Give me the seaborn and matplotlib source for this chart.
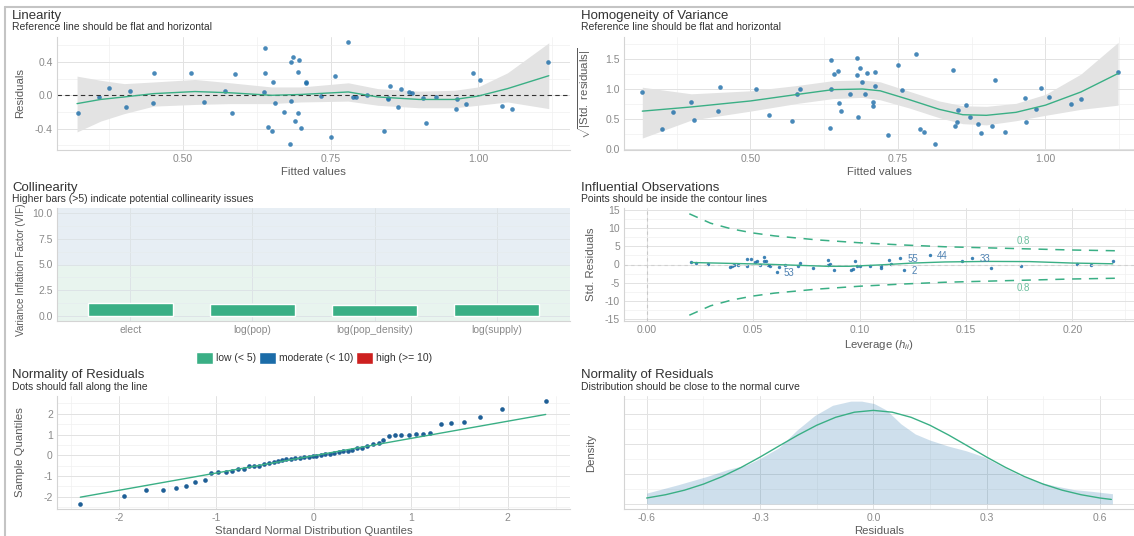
import numpy as np
import matplotlib.pyplot as plt
import seaborn as sns
from matplotlib.lines import Line2D
from matplotlib.patches import Patch
from matplotlib.ticker import MultipleLocator, FormatStrFormatter, NullFormatter

# ---- data ----
# Linearity: fitted values vs residuals
fitted = [0.322, 0.357, 0.374, 0.403, 0.409, 0.450, 0.449, 0.514, 0.535, 0.571,
          0.582, 0.588, 0.638, 0.638, 0.637, 0.644, 0.650, 0.652, 0.656, 0.671,
          0.682, 0.686, 0.683, 0.681, 0.690, 0.694, 0.697, 0.694, 0.699, 0.708,
          0.708, 0.734, 0.750, 0.757, 0.780, 0.788, 0.793, 0.812, 0.841, 0.847,
          0.850, 0.848, 0.865, 0.870, 0.883, 0.888, 0.907, 0.912, 0.929, 0.962,
          0.964, 0.980, 0.991, 1.003, 1.040, 1.058, 1.119]
resid = [-0.208, -0.016, 0.092, -0.140, 0.056, 0.272, -0.092, 0.264, -0.076, 0.056,
         -0.216, 0.256, 0.564, 0.264, 0.036, -0.380, -0.424, 0.160, -0.092, -0.200,
         0.400, 0.464, -0.064, -0.588, -0.304, -0.208, 0.424, 0.280, -0.388, 0.160,
         0.144, -0.012, -0.496, 0.232, 0.636, -0.024, -0.016, 0.004, -0.428, -0.036,
         0.108, -0.048, -0.136, 0.072, 0.040, 0.024, -0.032, -0.328, -0.020, -0.168,
         -0.048, -0.100, 0.264, 0.184, -0.132, -0.164, 0.404]
lin_sx = [0.32, 0.36, 0.40, 0.45, 0.52, 0.58, 0.65, 0.70, 0.78, 0.83, 0.90, 0.96, 1.00, 1.05, 1.12]
lin_sy = [-0.10, -0.05, -0.02, 0.02, 0.045, 0.03, 0.00, 0.01, 0.04, -0.02, -0.05, -0.05, -0.01, 0.08, 0.235]
lin_lo = [-0.44, -0.31, -0.22, -0.13, -0.11, -0.10, -0.10, -0.08, -0.07, -0.12, -0.15, -0.15, -0.12, -0.08, -0.16]
lin_hi = [0.23, 0.18, 0.14, 0.16, 0.19, 0.15, 0.10, 0.10, 0.15, 0.08, 0.05, 0.06, 0.10, 0.27, 0.63]

# Homogeneity of variance
hom_x = [0.317, 0.351, 0.369, 0.400, 0.405, 0.448, 0.446, 0.510, 0.532, 0.570,
         0.579, 0.585, 0.636, 0.637, 0.635, 0.642, 0.648, 0.651, 0.654, 0.669,
         0.680, 0.685, 0.681, 0.683, 0.689, 0.694, 0.697, 0.707, 0.707, 0.712,
         0.711, 0.733, 0.750, 0.757, 0.780, 0.788, 0.795, 0.813, 0.843, 0.847,
         0.850, 0.852, 0.866, 0.872, 0.886, 0.890, 0.909, 0.915, 0.932, 0.965,
         0.967, 0.984, 0.993, 1.006, 1.044, 1.061, 1.123]
hom_y = [0.957, 0.336, 0.616, 0.778, 0.481, 1.036, 0.633, 1.002, 0.571, 0.470,
         0.918, 0.997, 1.484, 1.002, 0.347, 1.243, 1.305, 0.767, 0.633, 0.913,
         1.512, 1.355, 1.232, 0.532, 1.109, 0.913, 1.265, 0.778, 0.711, 1.277,
         1.058, 0.230, 1.400, 0.980, 1.585, 0.336, 0.274, 0.073, 1.321, 0.381,
         0.442, 0.644, 0.733, 0.526, 0.409, 0.258, 0.386, 1.148, 0.280, 0.851,
         0.454, 0.666, 1.013, 0.868, 0.756, 0.834, 1.277]
hom_sx = [0.317, 0.40, 0.50, 0.58, 0.64, 0.69, 0.72, 0.77, 0.82, 0.86, 0.90, 0.95, 1.00, 1.06, 1.123]
hom_sy = [0.63, 0.70, 0.80, 0.91, 0.99, 1.00, 0.97, 0.82, 0.66, 0.57, 0.56, 0.61, 0.73, 0.95, 1.26]
hom_lo = [0.18, 0.48, 0.63, 0.76, 0.84, 0.86, 0.82, 0.68, 0.52, 0.42, 0.40, 0.47, 0.56, 0.66, 0.73]
hom_hi = [1.03, 0.92, 0.97, 1.06, 1.14, 1.15, 1.12, 0.96, 0.80, 0.72, 0.71, 0.76, 0.91, 1.25, 1.78]

# Collinearity
terms = ["elect", "log(pop)", "log(pop_density)", "log(supply)"]
vif = [1.22, 1.15, 1.09, 1.15]

# Influential observations
lev = [0.021, 0.023, 0.029, 0.039, 0.040, 0.041, 0.043, 0.047, 0.047, 0.049,
       0.051, 0.052, 0.053, 0.055, 0.055, 0.056, 0.057, 0.058, 0.061, 0.062,
       0.065, 0.071, 0.072, 0.078, 0.085, 0.085, 0.086, 0.088, 0.096, 0.097,
       0.098, 0.099, 0.100, 0.105, 0.110, 0.110, 0.114, 0.115, 0.119, 0.121,
       0.133, 0.148, 0.153, 0.162, 0.176, 0.202, 0.209, 0.219]
std_res = [0.73, 0.37, 0.18, -0.64, -0.28, -0.18, 0.00, -0.28, 1.56, 1.65,
           0.73, 1.00, -0.09, 2.20, 1.00, 0.92, -0.09, -0.28, -2.20, -0.73,
           -0.18, -0.55, 0.46, -1.00, 1.19, -0.09, 0.18, -1.47, -1.47, -1.38,
           1.00, -0.55, -0.46, -0.46, -1.00, -0.28, 1.19, 0.18, 1.83, -1.47,
           2.57, 0.92, 1.74, -0.83, -0.37, 0.09, -0.09, 0.83]
inf_ids = {18: "53", 38: "55", 39: "2", 40: "44", 42: "33"}
inf_sx = [0.021, 0.04, 0.055, 0.07, 0.085, 0.095, 0.11, 0.125, 0.14, 0.16, 0.18, 0.20, 0.219]
inf_sy = [0.55, 0.30, 0.10, -0.20, -0.50, -0.50, -0.10, 0.40, 0.70, 0.85, 0.80, 0.40, 0.20]
cook_h = [0.02, 0.03, 0.04, 0.05, 0.06, 0.08, 0.10, 0.12, 0.14, 0.16, 0.18, 0.20, 0.22]
cook_up = [14.0, 11.4, 9.8, 8.7, 7.9, 6.8, 6.0, 5.4, 4.9, 4.6, 4.3, 4.0, 3.8]
cook_lo = [-14.0, -11.4, -9.8, -8.7, -7.9, -6.8, -6.0, -5.4, -4.9, -4.6, -4.3, -4.0, -3.8]

# QQ plot
qq_theo = [-2.40, -1.95, -1.72, -1.55, -1.42, -1.31, -1.22, -1.12, -1.05, -0.98,
           -0.90, -0.84, -0.78, -0.72, -0.66, -0.61, -0.56, -0.51, -0.46, -0.41,
           -0.37, -0.32, -0.28, -0.23, -0.19, -0.14, -0.10, -0.05, -0.01, 0.03,
           0.08, 0.12, 0.17, 0.21, 0.26, 0.30, 0.35, 0.40, 0.45, 0.50,
           0.55, 0.61, 0.67, 0.72, 0.78, 0.84, 0.90, 0.98, 1.05, 1.13,
           1.20, 1.31, 1.42, 1.55, 1.71, 1.94, 2.39]
qq_samp = [-2.34, -1.95, -1.68, -1.65, -1.57, -1.50, -1.28, -1.18, -0.85, -0.80,
           -0.80, -0.75, -0.67, -0.64, -0.54, -0.51, -0.50, -0.40, -0.37, -0.32,
           -0.27, -0.24, -0.16, -0.18, -0.11, -0.11, -0.10, -0.10, -0.05, -0.03,
           0.00, 0.05, 0.08, 0.11, 0.16, 0.19, 0.22, 0.27, 0.35, 0.37,
           0.45, 0.56, 0.58, 0.75, 0.93, 0.96, 0.98, 0.99, 1.01, 1.04,
           1.09, 1.49, 1.58, 1.63, 1.84, 2.22, 2.61]
qq_lx = [-2.40, 2.39]
qq_ly = [-2.02, 1.97]

# Density of residuals
dens_x = [-0.60, -0.517, -0.44, -0.383, -0.336, -0.30, -0.25, -0.203, -0.155, -0.108,
          -0.06, -0.031, 0.002, 0.035, 0.073, 0.111, 0.149, 0.197, 0.245, 0.292,
          0.34, 0.387, 0.435, 0.482, 0.53, 0.578, 0.633]
dens_y = [0.18, 0.32, 0.46, 0.58, 0.65, 0.76, 0.94, 1.23, 1.48, 1.65,
          1.72, 1.72, 1.68, 1.57, 1.34, 1.17, 1.07, 0.97, 0.89, 0.79,
          0.63, 0.48, 0.37, 0.30, 0.24, 0.21, 0.17]
norm_x = [-0.60, -0.55, -0.50, -0.45, -0.40, -0.35, -0.30, -0.25, -0.20, -0.15, -0.10, -0.05,
          0.00, 0.05, 0.10, 0.15, 0.20, 0.25, 0.30, 0.35, 0.40, 0.45, 0.50, 0.55, 0.60, 0.63]
norm_y = [0.098, 0.153, 0.229, 0.330, 0.457, 0.610, 0.783, 0.968, 1.150, 1.316, 1.449, 1.535,
          1.565, 1.535, 1.449, 1.316, 1.150, 0.968, 0.783, 0.610, 0.457, 0.330, 0.229, 0.153,
          0.098, 0.074]

GREEN = "#3aaf85"
BLUE = "#1b6ca8"
RED = "#cd201f"
TXT = "#333333"

sns.set_theme(style="white")
plt.rcParams['font.family'] = ['Liberation Sans', 'DejaVu Sans']
plt.rcParams['axes.unicode_minus'] = False
plt.rcParams['mathtext.fontset'] = 'custom'
plt.rcParams['mathtext.rm'] = 'Liberation Sans'
plt.rcParams['mathtext.it'] = 'Liberation Sans:italic'

W, H = 1134, 536
fig = plt.figure(figsize=(W / 100, H / 100), dpi=100)


def px_axes(x0, y0, x1, y1):
    return fig.add_axes([x0 / W, 1 - y1 / H, (x1 - x0) / W, (y1 - y0) / H])


def frame(ax):
    ax.set_axisbelow(True)
    for s in ['top', 'right']:
        ax.spines[s].set_visible(False)
    for s in ['left', 'bottom']:
        ax.spines[s].set_color('#d4d4d4')
        ax.spines[s].set_linewidth(0.8)
    ax.tick_params(which='both', length=0, labelsize=7.5, labelcolor='#8a8a8a', pad=3)


def style(ax, xmaj, ymaj, xfmt=None, yfmt=None):
    ax.xaxis.set_major_locator(MultipleLocator(xmaj))
    ax.xaxis.set_minor_locator(MultipleLocator(xmaj / 2))
    ax.yaxis.set_major_locator(MultipleLocator(ymaj))
    ax.yaxis.set_minor_locator(MultipleLocator(ymaj / 2))
    if xfmt:
        ax.xaxis.set_major_formatter(FormatStrFormatter(xfmt))
    if yfmt:
        ax.yaxis.set_major_formatter(FormatStrFormatter(yfmt))
    ax.grid(True, which='major', color='#e2e2e2', lw=0.7)
    ax.grid(True, which='minor', color='#f0f0f0', lw=0.5)
    frame(ax)


def header(x, y, title, sub):
    fig.text(x / W, 1 - y / H, title, fontsize=9.5, color=TXT, va='center')
    fig.text(x / W, 1 - (y + 11.5) / H, sub, fontsize=7.5, color=TXT, va='center')


def labels(ax, xl, yl, right_px, ax_x0, ax_w, size=8.2):
    # right_px: right edge of the rotated y label, in figure pixels
    ax.set_xlabel(xl, fontsize=8.2, color='#5a5a5a', labelpad=2)
    ax.set_ylabel(yl, fontsize=size, color='#5a5a5a')
    ax.yaxis.set_label_coords((right_px - ax_x0) / ax_w, 0.5)


# ---- Linearity ----
ax1 = px_axes(57, 37, 570, 150)
ax1.fill_between(lin_sx, lin_lo, lin_hi, color='#e3e3e3', lw=0)
ax1.axhline(0, color='#333333', lw=0.8, ls=(0, (4, 3)))
sns.lineplot(x=lin_sx, y=lin_sy, ax=ax1, color=GREEN, lw=1.0, errorbar=None)
sns.scatterplot(x=fitted, y=resid, ax=ax1, color=BLUE, s=11, linewidth=0, alpha=0.8)
ax1.set_xlim(0.286, 1.156)
ax1.set_ylim(-0.657, 0.70)
style(ax1, 0.25, 0.4, '%.2f', '%.1f')
labels(ax1, 'Fitted values', 'Residuals', 25, 57, 513)
header(12, 16, 'Linearity', 'Reference line should be flat and horizontal')

# ---- Homogeneity ----
ax2 = px_axes(624, 37, 1134, 150)
ax2.fill_between(hom_sx, hom_lo, hom_hi, color='#e3e3e3', lw=0)
sns.lineplot(x=hom_sx, y=hom_sy, ax=ax2, color=GREEN, lw=1.0, errorbar=None)
sns.scatterplot(x=hom_x, y=hom_y, ax=ax2, color=BLUE, s=11, linewidth=0, alpha=0.8)
ax2.set_xlim(0.286, 1.15)
ax2.set_ylim(-0.02, 1.87)
style(ax2, 0.25, 0.5, '%.2f', '%.1f')
labels(ax2, 'Fitted values', r'$\sqrt{|\mathrm{Std.\ residuals}|}$', 593, 624, 510)
header(581, 16, 'Homogeneity of Variance', 'Reference line should be flat and horizontal')

# ---- Collinearity ----
ax3 = px_axes(57, 208, 570, 321)
ax3.axhspan(-0.5, 5, color='#e8f4ee', lw=0, zorder=0)
ax3.axhspan(5, 10.5, color='#e7eef4', lw=0, zorder=0)
sns.barplot(x=terms, y=vif, ax=ax3, color=GREEN, width=0.7, saturation=1, zorder=3)
ax3.set_xlim(-0.6, 3.6)
ax3.set_ylim(-0.5, 10.5)
ax3.yaxis.set_major_locator(MultipleLocator(2.5))
ax3.yaxis.set_minor_locator(MultipleLocator(1.25))
ax3.yaxis.set_major_formatter(FormatStrFormatter('%.1f'))
ax3.grid(True, which='major', color='#dde3e6', lw=0.7)
ax3.grid(True, which='minor', axis='y', color='#e6ecee', lw=0.5)
frame(ax3)
ax3.set_xlabel('')
ax3.set_ylabel('Variance Inflation Factor (VIF)', fontsize=7.2, color='#5a5a5a')
ax3.yaxis.set_label_coords((26 - 57) / 513, 0.45)
header(12, 188, 'Collinearity', 'Higher bars (>5) indicate potential collinearity issues')
handles = [Patch(facecolor=GREEN, label='low (< 5)'),
           Patch(facecolor=BLUE, label='moderate (< 10)'),
           Patch(facecolor=RED, label='high (>= 10)')]
fig.legend(handles=handles, loc='center', bbox_to_anchor=(314 / W, 1 - 358 / H), ncol=3,
           frameon=False, fontsize=7.5, handlelength=1.6, handleheight=1.35,
           columnspacing=0.3, handletextpad=0.3, labelcolor=TXT)

# ---- Influential observations ----
ax4 = px_axes(624, 208, 1134, 321)
ax4.axvline(0, color='#c8c8c8', lw=0.8, ls=(0, (3, 3)))
ax4.axhline(0, color='#d0d0d0', lw=0.8, ls=(0, (3, 3)))
sns.lineplot(x=cook_h, y=cook_up, ax=ax4, color=GREEN, lw=1.1, linestyle=(0, (6, 5)), errorbar=None)
sns.lineplot(x=cook_h, y=cook_lo, ax=ax4, color=GREEN, lw=1.1, linestyle=(0, (6, 5)), errorbar=None)
sns.lineplot(x=inf_sx, y=inf_sy, ax=ax4, color=GREEN, lw=1.0, errorbar=None)
sns.scatterplot(x=lev, y=std_res, ax=ax4, color=BLUE, s=6, linewidth=0, alpha=0.85)
for i, lab in inf_ids.items():
    ax4.text(lev[i] + 0.0035, std_res[i] - 0.2, lab, fontsize=7, color='#4f82b2', va='center')
ax4.text(0.177, 6.4, '0.8', fontsize=7, color='#6cbf9f', ha='center', va='center')
ax4.text(0.177, -6.4, '0.8', fontsize=7, color='#6cbf9f', ha='center', va='center')
ax4.set_xlim(-0.0107, 0.229)
ax4.set_ylim(-15.6, 15.6)
style(ax4, 0.05, 5, '%.2f', '%d')
labels(ax4, r'Leverage ($h_{ii}$)', 'Std. Residuals', 596, 624, 510)
header(581, 188, 'Influential Observations', 'Points should be inside the contour lines')

# ---- QQ ----
ax5 = px_axes(57, 396, 570, 509)
sns.lineplot(x=qq_lx, y=qq_ly, ax=ax5, color=GREEN, lw=1.0, errorbar=None)
sns.scatterplot(x=qq_theo, y=qq_samp, ax=ax5, color='#1f5f96', s=11, linewidth=0)
ax5.set_xlim(-2.64, 2.64)
ax5.set_ylim(-2.59, 2.86)
style(ax5, 1, 1, '%d', '%d')
labels(ax5, 'Standard Normal Distribution Quantiles', 'Sample Quantiles', 25, 57, 513)
header(12, 375, 'Normality of Residuals', 'Dots should fall along the line')

# ---- Density ----
ax6 = px_axes(624, 396, 1134, 509)
ax6.fill_between(dens_x, 0, dens_y, color=BLUE, alpha=0.21, lw=0)
sns.lineplot(x=norm_x, y=norm_y, ax=ax6, color=GREEN, lw=1.0, errorbar=None)
ax6.set_xlim(-0.66, 0.69)
ax6.set_ylim(-0.086, 1.806)
style(ax6, 0.3, 0.5, '%.1f')
ax6.yaxis.set_major_formatter(NullFormatter())
labels(ax6, 'Residuals', 'Density', 596, 624, 510)
header(581, 375, 'Normality of Residuals', 'Distribution should be close to the normal curve')

# page frame from the screenshot
fig.add_artist(Line2D([5 / W, 1], [1 - 7 / H, 1 - 7 / H], color='#c4c4c4', lw=1.5))
fig.add_artist(Line2D([5 / W, 5 / W], [0, 1 - 7 / H], color='#c4c4c4', lw=1.5))

fig.savefig('out.png', dpi=100)
